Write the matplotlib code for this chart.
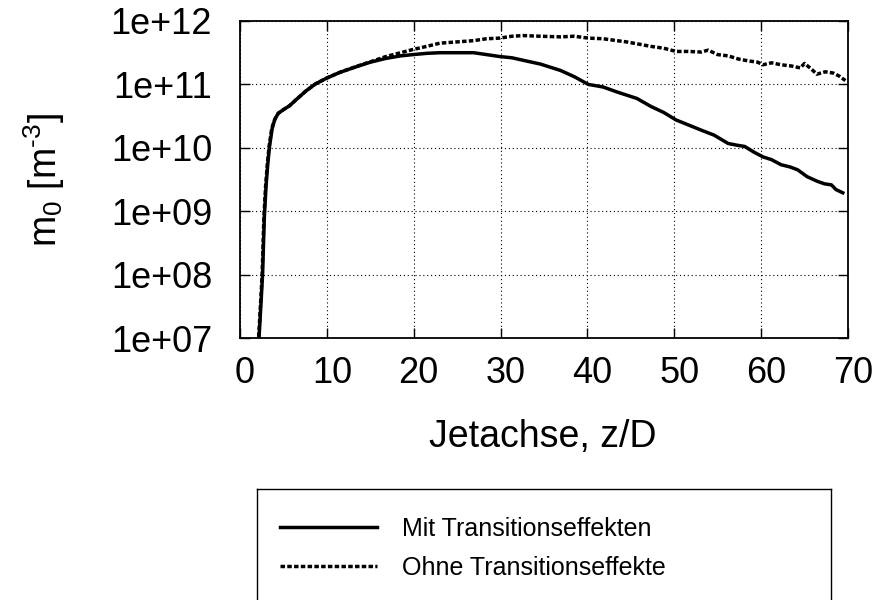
import matplotlib.pyplot as plt
from matplotlib.lines import Line2D
from matplotlib.ticker import LogLocator, NullFormatter, FixedLocator
from matplotlib.transforms import ScaledTranslation

plt.rcParams['font.family'] = ['Liberation Sans', 'DejaVu Sans']
plt.rcParams['mathtext.fontset'] = 'custom'
plt.rcParams['mathtext.rm'] = 'Liberation Sans'
plt.rcParams['mathtext.it'] = 'Liberation Sans'

# Nullmoment entlang der Jetachse
z_mit = [2.05, 2.15, 2.4, 2.6, 2.8, 3.0, 3.2, 3.4, 3.7, 4.0, 4.4, 5.0, 5.7, 6.5,
         7.6, 8.7, 10, 11.5, 13.4, 15, 16.8, 18.5, 19.9, 21.5, 23, 25, 26.9,
         28.4, 29.9, 31.3, 32.6, 34.6, 36.9, 38.5, 40.1, 41.8, 43.4, 45.7, 47.3,
         48.8, 50.2, 51.6, 53.1, 54.6, 56.2, 57.2, 58.1, 59.2, 60.2, 61.2, 62.3,
         63.3, 64.2, 65.3, 66.5, 67.3, 68.1, 68.6, 69.4]
m0_mit = [5.0e6, 7.9e6, 3.2e7, 1.0e8, 7.9e8, 2.5e9, 5.6e9, 1.05e10, 2.0e10,
          2.8e10, 3.5e10, 4.0e10, 4.6e10, 5.8e10, 7.9e10, 1.02e11, 1.26e11,
          1.55e11, 1.9e11, 2.24e11, 2.57e11, 2.82e11, 2.95e11, 3.09e11, 3.16e11,
          3.16e11, 3.16e11, 2.95e11, 2.75e11, 2.63e11, 2.40e11, 2.09e11, 1.66e11,
          1.32e11, 1.0e11, 9.1e10, 7.6e10, 6.0e10, 4.5e10, 3.6e10, 2.75e10,
          2.3e10, 1.9e10, 1.58e10, 1.17e10, 1.10e10, 1.05e10, 8.5e9, 7.2e9,
          6.5e9, 5.4e9, 5.0e9, 4.5e9, 3.5e9, 2.95e9, 2.7e9, 2.6e9, 2.2e9, 1.95e9]

z_ohne = [1.95, 2.1, 2.35, 2.55, 2.75, 2.95, 3.15, 3.35, 3.65, 4.0, 4.4, 5.0, 5.7,
          6.5, 7.6, 8.7, 10, 11.5, 13.4, 15, 16.8, 18.5, 19.9, 21.5, 23, 25,
          26.9, 28.4, 29.9, 31.3, 32.6, 34.6, 36.9, 38.5, 40.1, 41.8, 43.4, 44.5,
          45.7, 47.3, 48.8, 50.2, 51.6, 53.1, 53.9, 55, 56.2, 57.4, 58.6, 59.6,
          60.2, 61.2, 62.3, 63.5, 64.5, 65, 65.8, 66.4, 67.4, 68.3, 69, 69.7]
m0_ohne = [5.0e6, 7.9e6, 3.2e7, 1.0e8, 7.9e8, 2.5e9, 5.6e9, 1.05e10, 2.0e10,
           2.8e10, 3.5e10, 4.0e10, 4.6e10, 5.8e10, 7.9e10, 1.02e11, 1.26e11,
           1.55e11, 1.92e11, 2.27e11, 2.75e11, 3.16e11, 3.55e11, 3.98e11, 4.47e11,
           4.68e11, 4.9e11, 5.25e11, 5.37e11, 5.75e11, 5.89e11, 5.75e11, 5.62e11,
           5.75e11, 5.37e11, 5.25e11, 4.9e11, 4.68e11, 4.37e11, 3.98e11, 3.72e11,
           3.31e11, 3.31e11, 3.24e11, 3.47e11, 2.95e11, 2.82e11, 2.51e11, 2.34e11,
           2.24e11, 2.04e11, 2.19e11, 2.04e11, 1.95e11, 1.82e11, 2.14e11, 1.74e11,
           1.45e11, 1.58e11, 1.51e11, 1.35e11, 1.15e11]

labels = ['Mit Transitionseffekten', 'Ohne Transitionseffekte']
x_ticks = [0, 10, 20, 30, 40, 50, 60, 70]
y_ticks = [1e7, 1e8, 1e9, 1e10, 1e11, 1e12]
y_ticklabels = ['1e+07', '1e+08', '1e+09', '1e+10', '1e+11', '1e+12']

W, H = 876, 600
fig = plt.figure(figsize=(W / 100, H / 100), dpi=100)
ax = fig.add_axes([240 / W, 1 - 338 / H, 608 / W, 317 / H])

dash = (0, (1.3, 0.65))
ax.plot(z_ohne, m0_ohne, color='black', lw=2.5, linestyle=dash)
ax.plot(z_mit, m0_mit, color='black', lw=2.5)

ax.set_yscale('log')
ax.set_xlim(0, 70)
ax.set_ylim(1e7, 1e12)
ax.set_xticks(x_ticks)
ax.set_xticklabels([str(t) for t in x_ticks])
ax.yaxis.set_major_locator(FixedLocator(y_ticks))
ax.set_yticklabels(y_ticklabels)
ax.yaxis.set_minor_locator(LogLocator(base=10, subs=(2, 5, 8)))
ax.yaxis.set_minor_formatter(NullFormatter())

ax.grid(True, which='major', color='black', linestyle=(0, (1, 2.5)), lw=0.8)
ax.tick_params(which='both', direction='in', top=True, right=True,
               labelsize=26, width=1, color='black')
ax.tick_params(which='major', length=7)
ax.tick_params(which='minor', length=4)
ax.tick_params(axis='x', pad=13)
ax.tick_params(axis='y', pad=20)
for s in ax.spines.values():
    s.set_linewidth(1.3)

# x-Beschriftungen leicht nach rechts versetzt
shift = ScaledTranslation(5 / 100, 0, fig.dpi_scale_trans)
for lbl in ax.get_xticklabels():
    lbl.set_transform(lbl.get_transform() + shift)

fig.text(543 / W, 1 - 447 / H, 'Jetachse, z/D', fontsize=27,
         ha='center', va='baseline')
fig.text(57 / W, 1 - 180 / H, 'm$_0$ [m$^{\u20103}$]', fontsize=27,
         ha='center', va='baseline', rotation=90, rotation_mode='anchor')

# Legende in eigenem Kasten unter dem Diagramm (unten vom Bildrand abgeschnitten)
lax = fig.add_axes([257 / W, 1 - 606 / H, 574 / W, 117 / H])
lax.set_xticks([])
lax.set_yticks([])
for s in lax.spines.values():
    s.set_linewidth(1.0)
handles = [Line2D([], [], color='black', lw=2.5),
           Line2D([], [], color='black', lw=2.5, linestyle=dash)]
lax.legend(handles, labels, loc='center left', bbox_to_anchor=(0.022, 0.495),
           frameon=False, fontsize=18, handlelength=3.9, handletextpad=1.0,
           labelspacing=0.6, borderaxespad=0)

fig.savefig('out.png', dpi=100)
